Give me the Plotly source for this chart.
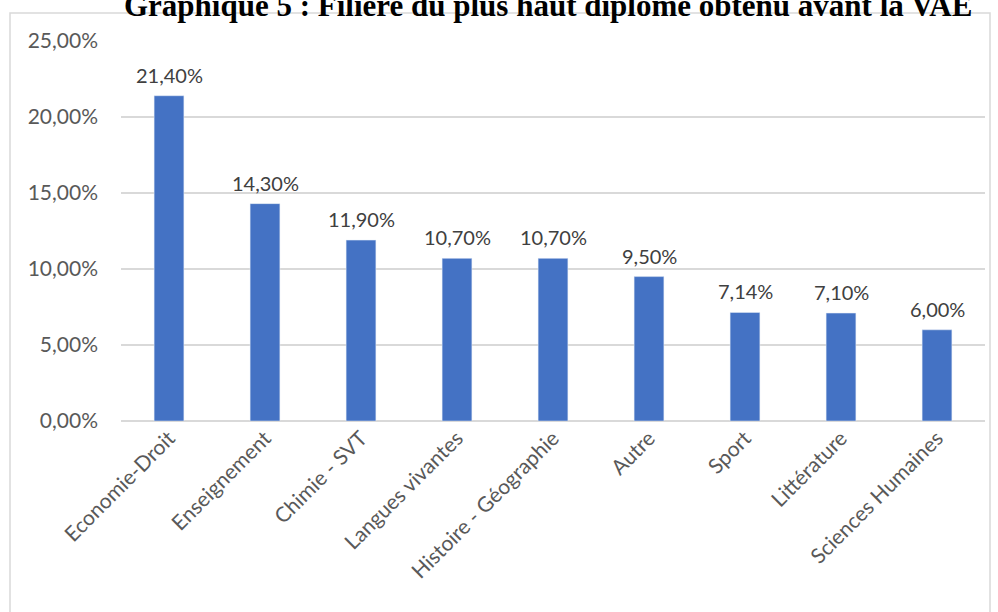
import plotly.graph_objects as go

categories = ["Economie-Droit", "Enseignement", "Chimie - SVT", "Langues vivantes",
              "Histoire - Géographie", "Autre", "Sport", "Littérature", "Sciences Humaines"]
values = [21.40, 14.30, 11.90, 10.70, 10.70, 9.50, 7.14, 7.10, 6.00]
value_labels = ["21,40%", "14,30%", "11,90%", "10,70%", "10,70%", "9,50%", "7,14%", "7,10%", "6,00%"]
y_ticks = [0, 5, 10, 15, 20, 25]
y_tick_labels = ["0,00%", "5,00%", "10,00%", "15,00%", "20,00%", "25,00%"]
title_text = "Graphique 5 : Filière du plus haut diplôme obtenu avant la VAE"

W, H = 998, 612
ml, mr, mt, mb = 121, 13, 41, 191
pw, ph = W - ml - mr, H - mt - mb

fig = go.Figure(go.Bar(
    x=categories, y=values,
    marker=dict(color="#4472C4"), width=0.31, cliponaxis=False,
))

def px_x(x):
    return (x - ml) / pw

def px_y(y):
    return 1 - (y - mt) / ph

label_annotations = [
    dict(x=c, y=v, text=t, xref="x", yref="y", xanchor="center", yanchor="bottom",
         yshift=7, showarrow=False,
         font=dict(size=20, color="#404040", family="Lato"))
    for c, v, t in zip(categories, values, value_labels)
]

fig.update_layout(
    width=W, height=H,
    margin=dict(l=ml, r=mr, t=mt, b=mb),
    paper_bgcolor="white", plot_bgcolor="white",
    showlegend=False,
    font=dict(family="Lato", color="#595959"),
    xaxis=dict(tickangle=-45, tickfont=dict(size=21, color="#595959"),
               showgrid=False, showline=False, ticks="", ticklabelstandoff=0),
    yaxis=dict(range=[0, 25], tickvals=y_ticks, ticktext=y_tick_labels,
               tickfont=dict(size=21, color="#595959"),
               showgrid=True, gridcolor="#D9D9D9", gridwidth=1.5,
               zeroline=True, zerolinecolor="#D9D9D9", zerolinewidth=1.5,
               showline=False, ticks="", ticklabelstandoff=22),
    shapes=[dict(type="rect", xref="paper", yref="paper",
                 x0=px_x(10), x1=px_x(990), y0=px_y(13), y1=px_y(640),
                 line=dict(color="#D9D9D9", width=1.5), fillcolor="rgba(0,0,0,0)", layer="below")],
    annotations=label_annotations + [dict(text="<b>" + title_text + "</b>", xref="paper", yref="paper",
                      x=px_x(548), y=px_y(25), xanchor="center", yanchor="bottom",
                      showarrow=False,
                      font=dict(family="Liberation Serif", size=31, color="black"))],
)

fig.write_html("out.html")
